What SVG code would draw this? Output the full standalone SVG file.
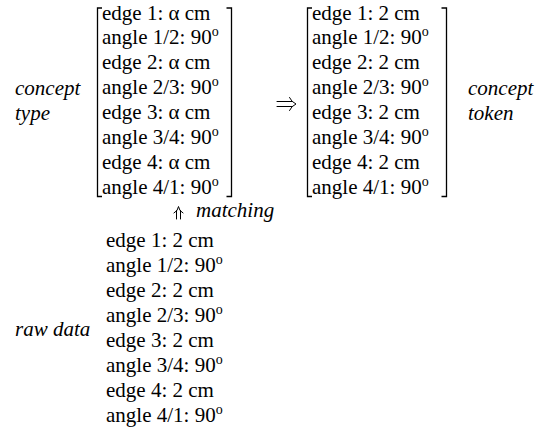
<svg xmlns="http://www.w3.org/2000/svg" width="536" height="432" viewBox="0 0 536 432">
<style>
text{font-family:"Liberation Serif","Times New Roman",Times,serif;font-size:21px;fill:#000}
.it{font-style:italic}
.br{fill:none;stroke:#000;stroke-width:1.3}
.arr{fill:none;stroke:#000;stroke-width:1;stroke-linecap:round}
</style>
<rect width="536" height="432" fill="#fff"/>
<g id="concept-type-label">
<text class="it" x="15" y="95">concept</text>
<text class="it" x="15" y="119.5">type</text>
</g>
<g id="concept-type">
<path class="br" d="M102,8 H97.5 V196.5 H102"/>
<path class="br" d="M226.5,8 H231.5 V196.5 H226.5"/>
<text x="102" y="19.5">edge 1: α cm</text>
<text x="102" y="44.4">angle 1/2: 90<tspan font-size="14" dy="-8">o</tspan></text>
<text x="102" y="69.3">edge 2: α cm</text>
<text x="102" y="94.2">angle 2/3: 90<tspan font-size="14" dy="-8">o</tspan></text>
<text x="102" y="119.1">edge 3: α cm</text>
<text x="102" y="144">angle 3/4: 90<tspan font-size="14" dy="-8">o</tspan></text>
<text x="102" y="168.9">edge 4: α cm</text>
<text x="102" y="193.8">angle 4/1: 90<tspan font-size="14" dy="-8">o</tspan></text>
</g>
<g id="concept-token">
<path class="br" d="M312,8 H307.5 V196.5 H312"/>
<path class="br" d="M441.5,8 H446.5 V196.5 H441.5"/>
<text x="312" y="19.5">edge 1: 2 cm</text>
<text x="312" y="44.4">angle 1/2: 90<tspan font-size="14" dy="-8">o</tspan></text>
<text x="312" y="69.3">edge 2: 2 cm</text>
<text x="312" y="94.2">angle 2/3: 90<tspan font-size="14" dy="-8">o</tspan></text>
<text x="312" y="119.1">edge 3: 2 cm</text>
<text x="312" y="144">angle 3/4: 90<tspan font-size="14" dy="-8">o</tspan></text>
<text x="312" y="168.9">edge 4: 2 cm</text>
<text x="312" y="193.8">angle 4/1: 90<tspan font-size="14" dy="-8">o</tspan></text>
</g>
<g id="concept-token-label">
<text class="it" x="468" y="95">concept</text>
<text class="it" x="468" y="119.5">token</text>
</g>
<g id="raw-data-label">
<text class="it" x="15" y="336">raw data</text>
</g>
<g id="raw-data">
<text x="106" y="246.5">edge 1: 2 cm</text>
<text x="106" y="271.5">angle 1/2: 90<tspan font-size="14" dy="-8">o</tspan></text>
<text x="106" y="296.5">edge 2: 2 cm</text>
<text x="106" y="321.5">angle 2/3: 90<tspan font-size="14" dy="-8">o</tspan></text>
<text x="106" y="346.5">edge 3: 2 cm</text>
<text x="106" y="371.5">angle 3/4: 90<tspan font-size="14" dy="-8">o</tspan></text>
<text x="106" y="396.5">edge 4: 2 cm</text>
<text x="106" y="421.5">angle 4/1: 90<tspan font-size="14" dy="-8">o</tspan></text>
</g>
<g id="connectors">
<path class="arr" d="M277,101.5 H292 M277,106.5 H292 M289.5,97.5 Q291.5,102 296,104 Q291.5,106 289.5,110.5"/>
<path class="arr" d="M176.5,210.5 V219 M180.5,210.5 V219 M174,213 Q178,211 178.5,206.5 Q179,211 183,213"/>
<text class="it" x="196" y="217">matching</text>
</g>
</svg>
